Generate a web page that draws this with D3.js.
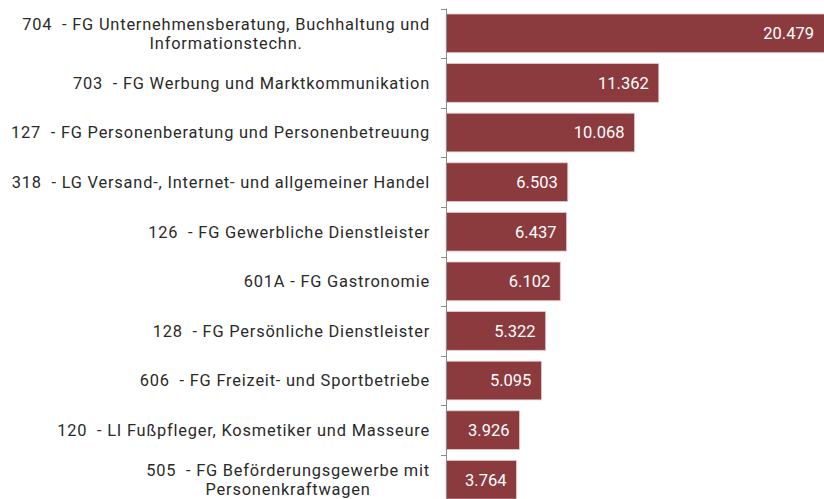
<!DOCTYPE html>
<html>
<head>
<meta charset="utf-8">
<script src="https://cdn.jsdelivr.net/npm/d3@7"></script>
<style>
  body { margin: 0; background: #fff; }
  text { font-family: Roboto, "Open Sans", sans-serif; white-space: pre; }
</style>
</head>
<body>
<svg id="chart" width="824" height="499"></svg>
<script>
// categories, top to bottom (long ones are split in two lines)
const labelLines = [
    ['704  - FG Unternehmensberatung, Buchhaltung und', 'Informationstechn.'],
    ['703  - FG Werbung und Marktkommunikation'],
    ['127  - FG Personenberatung und Personenbetreuung'],
    ['318  - LG Versand-, Internet- und allgemeiner Handel'],
    ['126  - FG Gewerbliche Dienstleister'],
    ['601A - FG Gastronomie'],
    ['128  - FG Persönliche Dienstleister'],
    ['606  - FG Freizeit- und Sportbetriebe'],
    ['120  - LI Fußpfleger, Kosmetiker und Masseure'],
    ['505  - FG Beförderungsgewerbe mit', 'Personenkraftwagen'],
];
const codes = ['704', '703', '127', '318', '126', '601A', '128', '606', '120', '505'];
const values = [20479, 11362, 10068, 6503, 6437, 6102, 5322, 5095, 3926, 3764];

const barColor = '#8b3a3e';
const svg = d3.select('#chart');
const W = 824;
const H = 499;
const axisX = 446;

const de = d3.formatLocale({ decimal: ',', thousands: '.', grouping: [3], currency: ['', ' €'] });
const fmt = de.format(',d');

const x = d3.scaleLinear().domain([0, 22000]).range([axisX, 858]);
const y = d3.scaleBand().domain(codes).range([3.1, 510]).padding(0.22);
const step = y.step();

// bars
svg.append('g')
    .selectAll('rect')
    .data(values)
    .join('rect')
    .attr('x', axisX)
    .attr('y', (d, i) => y(codes[i]))
    .attr('width', (d) => x(d) - axisX)
    .attr('height', y.bandwidth())
    .attr('fill', barColor)
    .attr('stroke', '#e6c9ca')
    .attr('stroke-width', 0.8);

// value labels
svg.append('g')
    .selectAll('text')
    .data(values)
    .join('text')
    .attr('x', (d) => Math.min(x(d), W) - 10)
    .attr('y', (d, i) => y(codes[i]) + y.bandwidth() / 2)
    .attr('dy', '0.36em')
    .attr('text-anchor', 'end')
    .attr('fill', '#fff')
    .style('font-size', '16.5px')
    .text((d) => fmt(d));

// axis line + ticks at category boundaries
const axis = svg.append('g').attr('stroke', '#8c8c8c').attr('stroke-width', 1);
const axisTop = y(codes[0]) - (step * 0.22) / 2;
axis.append('line')
    .attr('x1', axisX + 0.5).attr('x2', axisX + 0.5)
    .attr('y1', axisTop).attr('y2', H);
codes.forEach((c) => {
    const ty = Math.round(y(c) - (step * 0.22) / 2) + 0.5;
    axis.append('line')
        .attr('x1', axisX - 5).attr('x2', axisX + 0.5)
        .attr('y1', ty).attr('y2', ty);
});

// category labels, right aligned, wrapped lines centred under the first
const labelRight = 430;
const lineGap = 19.5;
labelLines.forEach((lines, i) => {
    const cy = y(codes[i]) + y.bandwidth() / 2;
    const g = svg.append('g')
        .attr('fill', '#2a2a2a')
        .style('font-size', '16.4px')
        .style('letter-spacing', '0.8px');
    const first = g.append('text')
        .attr('x', labelRight)
        .attr('y', cy - ((lines.length - 1) * lineGap) / 2)
        .attr('dy', '0.36em')
        .attr('text-anchor', 'end')
        .text(lines[0]);
    if (lines.length > 1) {
        const w = first.node().getComputedTextLength();
        g.append('text')
            .attr('x', labelRight - w / 2)
            .attr('y', cy + lineGap / 2)
            .attr('dy', '0.36em')
            .attr('text-anchor', 'middle')
            .text(lines[1]);
    }
});
</script>
</body>
</html>
